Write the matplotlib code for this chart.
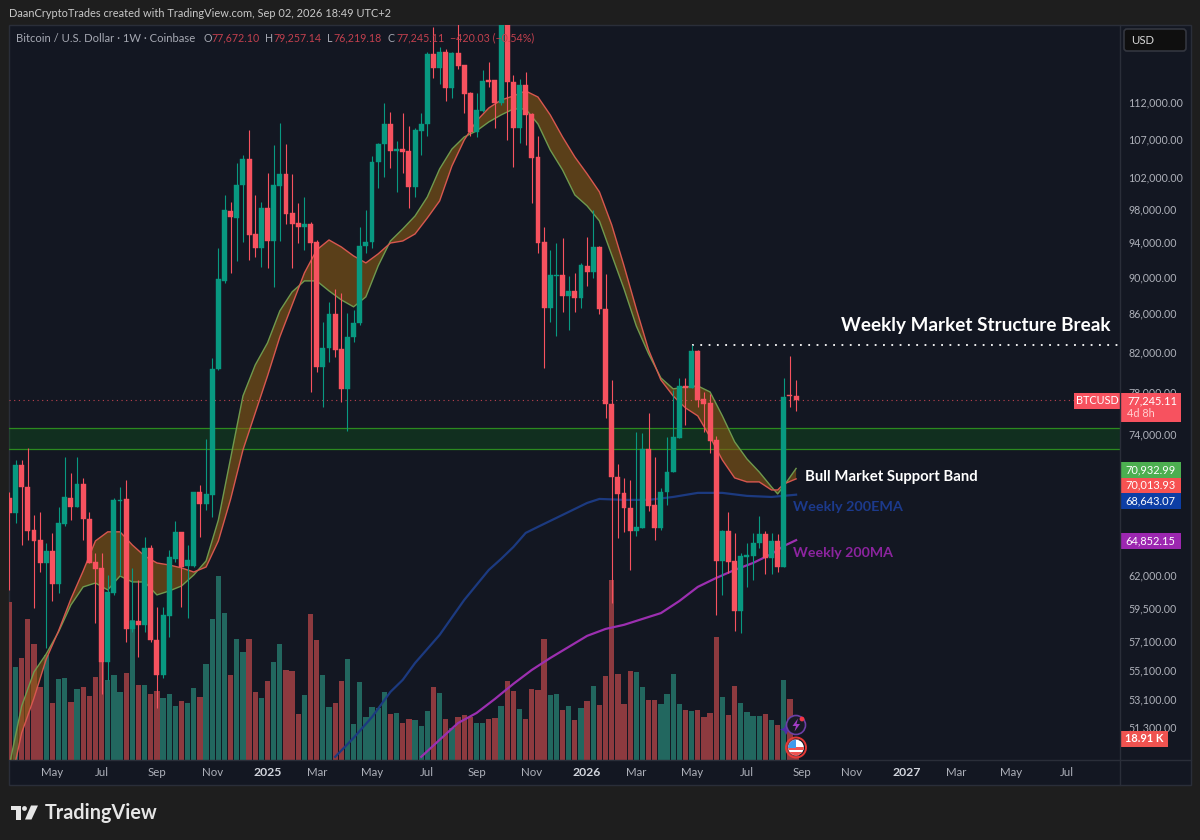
import matplotlib
matplotlib.use("Agg")
import matplotlib.pyplot as plt
from matplotlib.patches import Rectangle, FancyBboxPatch, Circle, Polygon
from matplotlib.ticker import FixedLocator, FixedFormatter, NullLocator

plt.rcParams['font.family'] = ['Lato', 'DejaVu Sans']

opens = [
 68370,67100,71240,69310,65690,64870,63030,63980,61400,66180,
 68370,67600,69570,66590,63110,62640,55690,60710,68110,68280,
 58040,58630,58340,64220,57250,54800,58990,63350,65530,62790,
 62790,68880,67860,68620,80330,89670,97870,97010,101100,104430,
 95090,93440,98240,94260,100970,102500,97620,96410,95930,96290,
 94140,80530,82460,86050,82360,78350,83610,85080,93680,94140,
 104040,106400,109100,105480,105740,105480,100850,108160,109100,119080,
 117000,119380,114120,119230,117460,113410,108020,110890,115270,115270,
 112000,126000,114980,108560,114550,110470,104690,94140,86700,90230,
 90340,88010,88560,87790,91360,90680,93560,86590,76890,70180,
 68800,67520,65610,65860,72680,67770,65860,68880,70620,73690,
 78640,78450,82160,77380,76990,73510,63190,65610,63190,59350,
 63510,63590,64630,65360,63430,64790,62710,77750,77672.10]
highs = [
 68880,71690,71690,72770,66930,67180,64630,65440,67600,71960,
 70540,71960,70100,67180,63820,63820,62090,68370,69310,69920,
 62640,61700,65100,64460,59650,59650,64060,66430,65530,64460,
 68880,69490,73600,81440,93440,99840,98970,103910,104950,108290,
 99840,98970,102620,106270,109240,106400,102500,98850,99590,96530,
 94380,85190,87350,88780,88340,86160,86480,95930,97990,104820,
 106540,112000,110750,106810,110610,108830,108560,110610,119380,123160,
 120120,119820,119380,123630,117460,113560,113410,116720,117900,115270,
 128000,127000,116000,115420,116430,110610,107480,95930,93210,94020,
 94620,90230,90570,91710,94740,97990,93680,90460,79230,71330,
 70100,69920,74240,74150,76030,71960,69220,73780,78250,79430,
 79430,82780,82260,78050,77860,73870,65690,67180,65440,63820,
 64630,65440,66840,65610,65440,65360,79430,81650,79257.14]
lows = [
 60940,66260,64460,64870,59580,62320,56680,60100,60710,66020,
 66510,67600,64870,63030,58480,53510,54460,60560,62090,57110,
 57820,56040,57820,57110,52580,54600,57470,63110,59650,58850,
 62710,65120,67350,66760,80230,89450,90570,91930,94140,92050,
 92400,91250,91140,89000,94260,96290,91140,94020,93210,78050,
 80030,76610,81040,81550,77090,74340,83090,84870,92860,93440,
 100720,102110,103270,100220,102620,98240,99590,104950,107480,115560,
 114700,112280,112700,116870,110610,107480,107350,110750,114270,108560,
 111700,106940,103400,106540,106270,98850,92860,80430,85190,83710,
 86270,84340,86270,86700,89110,90010,86050,75560,59950,65030,
 65530,62480,65200,65860,67270,64870,65690,67770,70620,73690,
 74900,78450,76610,74250,72310,59060,60560,62240,57900,57750,
 61170,61700,64220,62160,62160,62320,62710,76610,76219.18]
closes = [
 67100,71240,69310,65610,64790,63030,63980,61400,66260,68450,
 67600,69570,66590,63030,62560,55690,60790,68200,68200,58040,
 58630,58340,64220,57250,54800,59060,63510,65530,62710,63270,
 68880,67860,68710,80330,89890,97990,97130,101100,104430,94970,
 93440,98240,94260,101100,102500,97500,96290,95930,96290,94020,
 80530,82460,86050,82260,78350,83610,85080,93680,94140,104040,
 106400,109100,105480,105740,105350,100850,108290,109100,119080,117000,
 119380,114120,119230,117310,113270,108020,111030,115130,114980,112000,
 126000,114980,108560,114550,110340,104560,94020,86700,90340,90340,
 88010,88560,87790,91480,90680,93560,86590,76890,70180,68710,
 67520,65610,65940,72680,67690,65860,68880,70620,73780,78640,
 78450,82160,77280,76900,73420,63190,65610,63110,59350,63590,
 63670,64630,65360,63430,64790,62710,77570,77672,77245.11]
volumes_k = [
 142.5,83.4,92.1,126.6,104.4,66,94.5,51.6,72.9,73.8,
 52.5,63.9,65.7,57.6,74.7,88.5,72,76.2,61.5,78,
 126,67.2,67.2,59.1,62.1,55.8,59.7,48.3,53.1,51.6,
 64.8,56.4,86.1,127.2,165.9,132.3,76.2,109.2,97.5,109.2,
 60.9,55.5,70.8,87.9,104.4,81.3,79.8,41.1,58.5,131.7,
 108,76.5,48,51.6,70.8,91.2,32.7,69.9,38.4,47.4,
 46.8,61.5,41.1,42.6,33.6,36.6,35.7,30.3,44.1,65.7,
 60.6,36.9,28.5,38.4,40.8,38.4,33.6,33.6,36.6,37.5,
 48.3,71.4,62.4,45.9,36.9,63.9,63,108.6,58.8,59.1,
 45,48.3,36,46.5,53.4,66.6,49.2,75.6,162,77.1,
 50.7,80.4,79.5,65.7,54,54,50.1,59.7,77.1,50.4,
 45,44.1,45,39,42.3,110.7,56.4,40.2,66.6,51.3,
 43.2,39.9,39.9,41.1,35.7,31.8,72,54.6,18.91]

band_idx = [0,2,4,6,8,10,12,14,16,18,20,22,24,26,28,30,32,34,36,38,40,42,44,46,48,50,52,54,56,58,
            60,62,64,66,68,70,72,74,76,78,80,82,84,86,88,90,92,94,96,98,100,102,104,106,108,110,
            112,114,116,118,120,122,124,125,126,128]
band_green = [
 48970,52710,55000,56260,57830,59800,61170,61470,60940,62010,
 61550,61550,60560,60860,61240,62090,63190,66510,71870,77660,
 80730,82990,86370,88450,89670,89670,88560,87570,86810,87900,
 91370,94260,95690,97250,99590,103140,105740,107350,108160,109380,
 110340,111170,111170,109100,105610,103010,99840,98480,96650,92630,
 88780,84760,81850,79430,78350,78540,78640,78050,75750,73330,
 71780,70620,69310,68710,69400,70932.99]
band_red = [
 47470,50970,53240,55900,57900,60250,62400,64790,65530,65530,
 64460,63580,63030,62870,62640,62320,62710,64790,68280,72590,
 76030,79630,83610,87020,90570,93210,94380,93560,92510,91710,
 92750,94020,94260,95090,97010,99100,103520,106940,109510,111310,
 112420,112990,113700,112840,110340,107350,104690,102500,100220,96170,
 91370,86590,82260,79230,77660,76510,75750,73780,71690,70100,
 69750,69750,69050,69050,69570,70013.93]

ema_idx = [53,56,59,62,64,66,70,74,78,80,82,84,86,90,94,96,100,104,108,112,116,120,124,128]
ema200 = [49465,50650,51990,53650,54460,55620,57610,60180,62480,63350,64300,65440,65940,66930,67940,68280,68200,68200,68450,68800,68800,68540,68450,68643.07]
ma_idx = [67,70,73,76,79,82,85,88,91,94,97,100,103,106,109,112,115,118,121,124,126,128]
ma200 = [49465,50530,51600,52250,53180,54190,55140,55970,56750,57540,58040,58340,58770,59200,60100,61170,61860,62480,63030,63740,64380,64852.15]

zone_low, zone_high = 72680, 74620
structure_level = 82760
structure_start = 111
last_price = 77245.11

price_ticks = [51300,53100,55100,57100,59500,62000,74000,78000,82000,86000,90000,94000,98000,102000,107000,112000]
time_idx = [7,15,24,33,42,50,59,68,76,85,94,102,111,120,129,137,146,154,163,172]
time_labels = ['May','Jul','Sep','Nov','2025','Mar','May','Jul','Sep','Nov','2026','Mar','May','Jul','Sep','Nov','2027','Mar','May','Jul']

TEAL, RED = '#089981', '#f7525f'
VTEAL, VRED = '#22675f', '#8d3a3f'
PANEL, PAGE = '#131722', '#1e1e1e'
GRID = '#2a2e39'
AXTXT = '#aeb1ba'

fig = plt.figure(figsize=(12, 8.4), dpi=100, facecolor=PAGE)
W, H = 1200, 840
def rect(l, t, r, b):
    return [l/W, 1-b/H, (r-l)/W, (b-t)/H]

fig.patches.append(Rectangle((9/W, 1-785/H), 1182/W, 760/H, transform=fig.transFigure,
                             fc=PANEL, ec=GRID, lw=1, zorder=0))

xs = list(range(len(opens)))
xlim = (-0.065, 180.7)
ylim = (49270, 123470)

# volume pane
vax = fig.add_axes(rect(9, 25, 1120, 760), facecolor=PANEL, zorder=1)
vcols = [VTEAL if c >= o else VRED for o, c in zip(opens, closes)]
vax.bar(xs, volumes_k, width=0.86, color=vcols, lw=0)
vax.set_xlim(xlim)
vax.set_ylim(0, 661.5)
vax.axis('off')

# price pane
ax = fig.add_axes(rect(9, 25, 1120, 760), facecolor='none', zorder=2)
ax.set_yscale('log')
ax.set_xlim(xlim)
ax.set_ylim(ylim)
for s in ax.spines.values():
    s.set_visible(False)

ax.axhspan(zone_low, zone_high, fc='#0e7a1a', alpha=0.25, lw=0, zorder=1)
ax.axhline(zone_low, color='#2c8a1f', lw=0.9, zorder=1.5)
ax.axhline(zone_high, color='#2c8a1f', lw=0.9, zorder=1.5)

ax.fill_between(band_idx, band_green, band_red, fc='#8b5a14', alpha=0.6, lw=0, zorder=2)
ax.plot(band_idx, band_green, color='#6f9a4e', lw=1, zorder=2.5)
ax.plot(band_idx, band_red, color='#d8574f', lw=1, zorder=2.5)
ax.plot(ema_idx, ema200, color='#1c3a80', lw=1.6, zorder=2.6)
ax.plot(ma_idx, ma200, color='#9c2fb0', lw=1.6, zorder=2.6)

ax.axhline(last_price, color='#f7525f', lw=0.8, ls=(0, (1, 3.2)), alpha=0.75, zorder=2.7)
ax.plot([structure_start, xlim[1]], [structure_level]*2, color='white', lw=1.3,
        ls=(0, (1, 3.6)), zorder=2.8)

ccols = [TEAL if c >= o else RED for o, c in zip(opens, closes)]
ax.vlines(xs, lows, highs, colors=ccols, lw=0.8, zorder=3)
ax.bar(xs, [abs(c-o) for o, c in zip(opens, closes)],
       bottom=[min(o, c) for o, c in zip(opens, closes)],
       width=0.8, color=ccols, edgecolor=ccols, lw=0.3, zorder=3.2)

ax.yaxis.tick_right()
ax.yaxis.set_major_locator(FixedLocator(price_ticks))
ax.yaxis.set_major_formatter(FixedFormatter([f'{v:,.2f}' for v in price_ticks]))
ax.yaxis.set_minor_locator(NullLocator())
ax.tick_params(axis='y', which='major', length=0, pad=6, labelsize=7.7, labelcolor=AXTXT)
for lab in ax.get_yticklabels():
    lab.set_va('center')
ax.set_xticks(time_idx)
ax.set_xticklabels(time_labels)
ax.tick_params(axis='x', length=0, pad=5, labelsize=8.3, labelcolor=AXTXT)
for lab in ax.get_xticklabels():
    if lab.get_text().isdigit():
        lab.set_color('#d1d4dc')
        lab.set_fontweight('bold')
        lab.set_fontsize(8.8)

# overlay in pixel space for the interface furniture
ui = fig.add_axes([0, 0, 1, 1], facecolor='none', zorder=5)
ui.set_xlim(0, W)
ui.set_ylim(H, 0)
ui.axis('off')
ui.plot([1120, 1120], [25, 785], color=GRID, lw=1)
ui.plot([9, 1191], [760, 760], color=GRID, lw=1)

def txt(x, y, s, color='white', size=8, weight='normal', ha='left', va='center'):
    return ui.text(x, y, s, color=color, fontsize=size, fontweight=weight, ha=ha, va=va)

txt(9, 13.5, 'DaanCryptoTrades created with TradingView.com, Sep 02, 2026 18:49 UTC+2', '#c9c9c9', 7.9)
txt(16, 38, 'Bitcoin / U.S. Dollar · 1W · Coinbase', '#a5a8b2', 8.1)
LEG = '#c2404e'
for x, lab, val in [(203, 'O', '77,672.10'), (265, 'H', '79,257.14'), (327, 'L', '76,219.18'), (388, 'C', '77,245.11')]:
    txt(x, 38, lab, '#a5a8b2', 7.7)
    txt(x + (8 if lab != 'L' else 6), 38, val, LEG, 7.7)
txt(450, 38, '−420.03 (−0.54%)', LEG, 7.7)

ui.add_patch(FancyBboxPatch((1124, 29), 62, 22, boxstyle='round,pad=0,rounding_size=3',
                            fc='#0f0f0f', ec='#33363f', lw=1.2))
txt(1131, 40.5, 'USD', '#d8d8d8', 8.2)

txt(841, 326, 'Weekly Market Structure Break', 'white', 13.6, 'bold')
txt(805, 477, 'Bull Market Support Band', 'white', 10.7, 'bold')
txt(793, 507, 'Weekly 200EMA', '#1c3a8c', 10.4, 'bold')
txt(793, 553, 'Weekly 200MA', '#8c249f', 10.2, 'bold')

def tag(l, t, r, b, color, s, size=7.9, weight='normal', tcolor='white'):
    ui.add_patch(Rectangle((l, t), r-l, b-t, fc=color, lw=0))
    txt((l+r)/2, (t+b)/2 - 0.3, s, tcolor, size, weight, ha='center')

tag(1074, 393, 1120, 409, '#f7525f', 'BTCUSD', size=7.8)
ui.add_patch(Rectangle((1120, 393), 61, 29, fc='#f7525f', lw=0))
txt(1127, 400.5, '77,245.11', 'white', 7.9)
txt(1127, 413.5, '4d 8h', '#ffd0d0', 7.9)
tag(1120, 462, 1181, 478, '#4caf50', '70,932.99')
tag(1120, 478, 1181, 493, '#f75252', '70,013.93')
tag(1120, 493, 1181, 509, '#0d3ea5', '68,643.07')
tag(1120, 533, 1181, 549, '#9c27b0', '64,852.15')
tag(1120, 731, 1168, 747, '#ef5350', '18.91 K', weight='bold')

# event icons
ui.add_patch(Polygon([(786, 724), (788, 728), (792, 729.5), (788, 731), (786, 735), (784, 731), (780, 729.5), (784, 728)],
                     fc='#4b2fa8', lw=0, zorder=4))
ui.add_patch(Circle((796, 725), 9.5, fc='#181a26', ec='#6c3fa5', lw=1.2, zorder=4))
ui.add_patch(Polygon([(798, 718.5), (792.5, 726), (796, 726), (794.5, 731.5), (800, 724), (796.5, 724)],
                     fc='#a23cc4', lw=0, zorder=5))
ui.add_patch(Circle((802, 719), 2.4, fc='#f23645', lw=0, zorder=6))
disc = Circle((796, 747.5), 7.8, fc='white', lw=0, zorder=4)
ui.add_patch(disc)
for top in (747, 752):
    r_ = Rectangle((786, top), 20, 2.5, fc='#ef5350', lw=0, zorder=4.5)
    ui.add_patch(r_)
    r_.set_clip_path(disc)
blue_ = Rectangle((786, 739), 10, 9, fc='#3f9bea', lw=0, zorder=4.6)
ui.add_patch(blue_)
blue_.set_clip_path(disc)
ui.add_patch(Circle((796, 747.5), 10, fc='none', ec='#e53935', lw=1.4, zorder=5))

# logo
LOGO = '#e6e6e6'
ui.add_patch(Polygon([(11, 805.5), (21, 805.5), (21, 819.5), (16, 819.5), (16, 810), (11, 810)], fc=LOGO, lw=0))
ui.add_patch(Circle((24.5, 808.5), 2.4, fc=LOGO, lw=0))
ui.add_patch(Polygon([(31, 805.5), (38, 805.5), (31.5, 819.5), (25, 819.5)], fc=LOGO, lw=0))
txt(44.5, 813, 'TradingView', '#e6e6e6', 14.2, 'bold')

fig.savefig('out.png', dpi=100, facecolor=PAGE)
